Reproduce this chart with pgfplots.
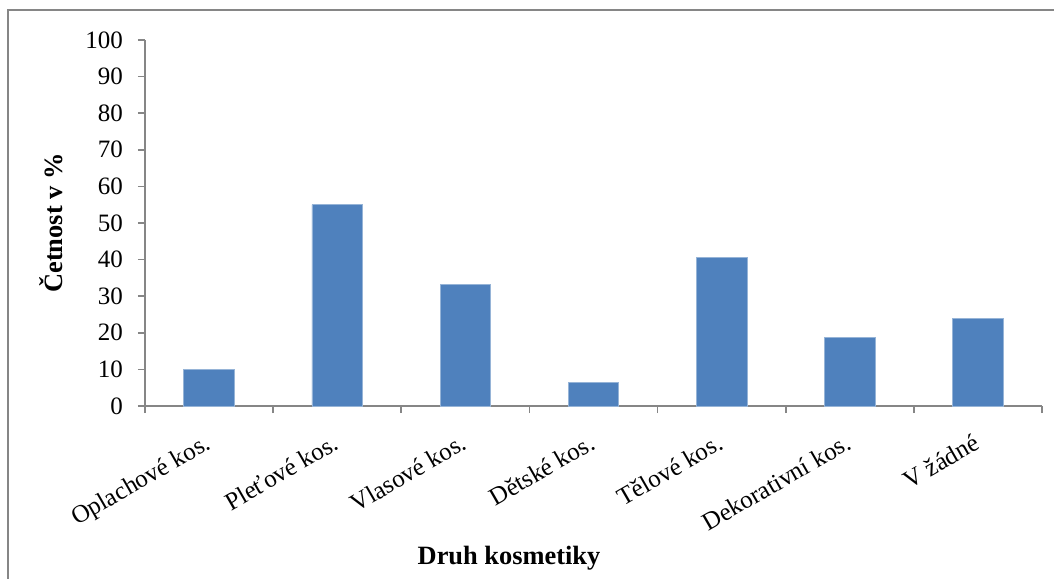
\documentclass[border=0pt]{standalone}
\usepackage{fontspec}
\setmainfont{Liberation Serif}
\usepackage{pgfplots}
\pgfplotsset{compat=1.18}

\definecolor{barblue}{RGB}{79,129,189}
\definecolor{baredge}{RGB}{150,180,215}
\definecolor{axgray}{RGB}{134,134,134}

\begin{document}
\begin{tikzpicture}
% picture frame: 1 px = 0.5 pt, axis south west at origin
\useasboundingbox (-72.5pt,-86pt) rectangle (454.5pt,203pt);
\draw[axgray, line width=1.2pt] (-68.5pt,-90pt) -- (-68.5pt,198pt) -- (460pt,198pt);
\begin{axis}[
  scale only axis,
  width=448.5pt,
  height=183pt,
  ymin=0, ymax=100,
  ytick={0,10,...,100},
  xmin=-0.5, xmax=6.5,
  xtick={0,...,6},
  xticklabels={Oplachové kos., Pleťové kos., Vlasové kos., Dětské kos., Tělové kos., Dekorativní kos., V žádné},
  minor xtick={-0.5,0.5,...,6.5},
  major x tick style={draw=none},
  tick align=outside,
  major tick length=3.5pt,
  minor tick length=3.5pt,
  axis x line*=bottom,
  axis y line*=left,
  axis line style={axgray, line width=0.8pt},
  every tick/.style={axgray, line width=0.8pt},
  minor x tick style={axgray, line width=0.8pt},
  /pgf/number format/assume math mode=true,
  yticklabel style={font=\fontsize{12.5}{15}\selectfont, xshift=-4pt},
  xticklabel style={font=\fontsize{12.5}{15}\selectfont, xshift=-2.8pt, yshift=-9.7pt, rotate=30, anchor=north east, inner sep=0pt},
  ylabel={\textbf{Četnost v \%}},
  ylabel style={font=\fontsize{13.2}{16}\selectfont, at={(rel axis cs:0,0.5)}, yshift=47pt, anchor=center},
  xlabel={\textbf{Druh kosmetiky}},
  xlabel style={font=\fontsize{13.2}{16}\selectfont, at={(rel axis cs:0,0)}, xshift=182pt, yshift=-76pt, anchor=center},
  ybar,
  bar width=0.395,
  clip=false,
]
\addplot[fill=barblue, draw=baredge, line width=0.4pt] coordinates {
  (0,10.0) (1,55.0) (2,33.2) (3,6.5) (4,40.5) (5,18.7) (6,23.8)
};
\end{axis}
\end{tikzpicture}
\end{document}
